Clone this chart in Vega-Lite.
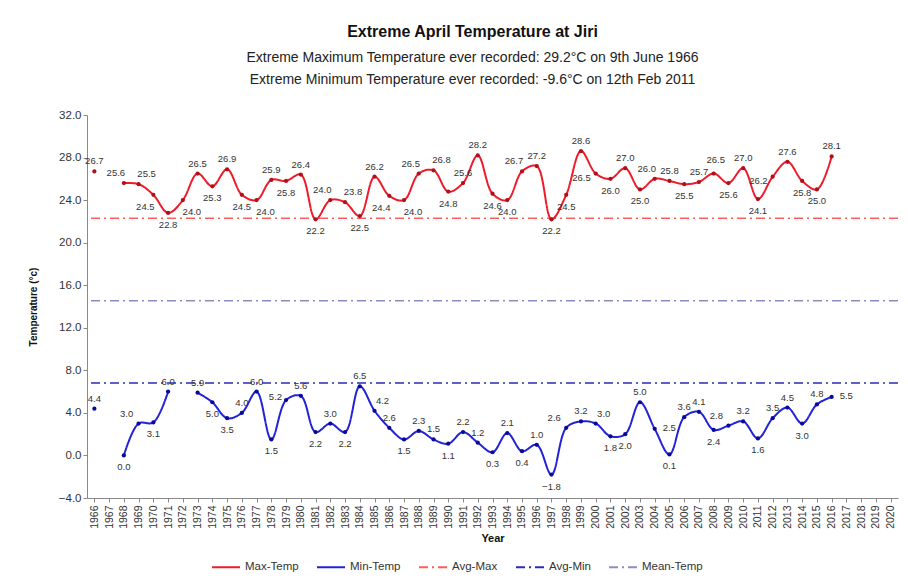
{
  "$schema": "https://vega.github.io/schema/vega-lite/v6.json",
  "width": 811,
  "height": 383,
  "autosize": {"type": "none"},
  "padding": {"left": 87, "top": 115, "right": 10, "bottom": 84},
  "background": "white",
  "title": {
    "text": "Extreme April Temperature at Jiri",
    "subtitle": ["Extreme Maximum Temperature ever recorded: 29.2°C on 9th June 1966", "Extreme Minimum Temperature ever recorded: -9.6°C on 12th Feb 2011"],
    "font": "Liberation Sans",
    "fontSize": 16,
    "fontWeight": "bold",
    "color": "#111",
    "subtitleFont": "Liberation Sans",
    "subtitleFontSize": 14,
    "subtitleColor": "#222",
    "subtitleLineHeight": 22,
    "subtitlePadding": 11,
    "anchor": "middle",
    "offset": 22,
    "dx": -20
  },
  "datasets": {
    "temps": [
      {"year": 1966, "series": "Max-Temp", "temp": 26.7},
      {"year": 1967, "series": "Max-Temp", "temp": null},
      {"year": 1968, "series": "Max-Temp", "temp": 25.6},
      {"year": 1969, "series": "Max-Temp", "temp": 25.5},
      {"year": 1970, "series": "Max-Temp", "temp": 24.5},
      {"year": 1971, "series": "Max-Temp", "temp": 22.8},
      {"year": 1972, "series": "Max-Temp", "temp": 24.0},
      {"year": 1973, "series": "Max-Temp", "temp": 26.5},
      {"year": 1974, "series": "Max-Temp", "temp": 25.3},
      {"year": 1975, "series": "Max-Temp", "temp": 26.9},
      {"year": 1976, "series": "Max-Temp", "temp": 24.5},
      {"year": 1977, "series": "Max-Temp", "temp": 24.0},
      {"year": 1978, "series": "Max-Temp", "temp": 25.9},
      {"year": 1979, "series": "Max-Temp", "temp": 25.8},
      {"year": 1980, "series": "Max-Temp", "temp": 26.4},
      {"year": 1981, "series": "Max-Temp", "temp": 22.2},
      {"year": 1982, "series": "Max-Temp", "temp": 24.0},
      {"year": 1983, "series": "Max-Temp", "temp": 23.8},
      {"year": 1984, "series": "Max-Temp", "temp": 22.5},
      {"year": 1985, "series": "Max-Temp", "temp": 26.2},
      {"year": 1986, "series": "Max-Temp", "temp": 24.4},
      {"year": 1987, "series": "Max-Temp", "temp": 24.0},
      {"year": 1988, "series": "Max-Temp", "temp": 26.5},
      {"year": 1989, "series": "Max-Temp", "temp": 26.8},
      {"year": 1990, "series": "Max-Temp", "temp": 24.8},
      {"year": 1991, "series": "Max-Temp", "temp": 25.6},
      {"year": 1992, "series": "Max-Temp", "temp": 28.2},
      {"year": 1993, "series": "Max-Temp", "temp": 24.6},
      {"year": 1994, "series": "Max-Temp", "temp": 24.0},
      {"year": 1995, "series": "Max-Temp", "temp": 26.7},
      {"year": 1996, "series": "Max-Temp", "temp": 27.2},
      {"year": 1997, "series": "Max-Temp", "temp": 22.2},
      {"year": 1998, "series": "Max-Temp", "temp": 24.5},
      {"year": 1999, "series": "Max-Temp", "temp": 28.6},
      {"year": 2000, "series": "Max-Temp", "temp": 26.5},
      {"year": 2001, "series": "Max-Temp", "temp": 26.0},
      {"year": 2002, "series": "Max-Temp", "temp": 27.0},
      {"year": 2003, "series": "Max-Temp", "temp": 25.0},
      {"year": 2004, "series": "Max-Temp", "temp": 26.0},
      {"year": 2005, "series": "Max-Temp", "temp": 25.8},
      {"year": 2006, "series": "Max-Temp", "temp": 25.5},
      {"year": 2007, "series": "Max-Temp", "temp": 25.7},
      {"year": 2008, "series": "Max-Temp", "temp": 26.5},
      {"year": 2009, "series": "Max-Temp", "temp": 25.6},
      {"year": 2010, "series": "Max-Temp", "temp": 27.0},
      {"year": 2011, "series": "Max-Temp", "temp": 24.1},
      {"year": 2012, "series": "Max-Temp", "temp": 26.2},
      {"year": 2013, "series": "Max-Temp", "temp": 27.6},
      {"year": 2014, "series": "Max-Temp", "temp": 25.8},
      {"year": 2015, "series": "Max-Temp", "temp": 25.0},
      {"year": 2016, "series": "Max-Temp", "temp": 28.1},
      {"year": 1966, "series": "Min-Temp", "temp": 4.4},
      {"year": 1967, "series": "Min-Temp", "temp": null},
      {"year": 1968, "series": "Min-Temp", "temp": 0.0},
      {"year": 1969, "series": "Min-Temp", "temp": 3.0},
      {"year": 1970, "series": "Min-Temp", "temp": 3.1},
      {"year": 1971, "series": "Min-Temp", "temp": 6.0},
      {"year": 1972, "series": "Min-Temp", "temp": null},
      {"year": 1973, "series": "Min-Temp", "temp": 5.9},
      {"year": 1974, "series": "Min-Temp", "temp": 5.0},
      {"year": 1975, "series": "Min-Temp", "temp": 3.5},
      {"year": 1976, "series": "Min-Temp", "temp": 4.0},
      {"year": 1977, "series": "Min-Temp", "temp": 6.0},
      {"year": 1978, "series": "Min-Temp", "temp": 1.5},
      {"year": 1979, "series": "Min-Temp", "temp": 5.2},
      {"year": 1980, "series": "Min-Temp", "temp": 5.6},
      {"year": 1981, "series": "Min-Temp", "temp": 2.2},
      {"year": 1982, "series": "Min-Temp", "temp": 3.0},
      {"year": 1983, "series": "Min-Temp", "temp": 2.2},
      {"year": 1984, "series": "Min-Temp", "temp": 6.5},
      {"year": 1985, "series": "Min-Temp", "temp": 4.2},
      {"year": 1986, "series": "Min-Temp", "temp": 2.6},
      {"year": 1987, "series": "Min-Temp", "temp": 1.5},
      {"year": 1988, "series": "Min-Temp", "temp": 2.3},
      {"year": 1989, "series": "Min-Temp", "temp": 1.5},
      {"year": 1990, "series": "Min-Temp", "temp": 1.1},
      {"year": 1991, "series": "Min-Temp", "temp": 2.2},
      {"year": 1992, "series": "Min-Temp", "temp": 1.2},
      {"year": 1993, "series": "Min-Temp", "temp": 0.3},
      {"year": 1994, "series": "Min-Temp", "temp": 2.1},
      {"year": 1995, "series": "Min-Temp", "temp": 0.4},
      {"year": 1996, "series": "Min-Temp", "temp": 1.0},
      {"year": 1997, "series": "Min-Temp", "temp": -1.8},
      {"year": 1998, "series": "Min-Temp", "temp": 2.6},
      {"year": 1999, "series": "Min-Temp", "temp": 3.2},
      {"year": 2000, "series": "Min-Temp", "temp": 3.0},
      {"year": 2001, "series": "Min-Temp", "temp": 1.8},
      {"year": 2002, "series": "Min-Temp", "temp": 2.0},
      {"year": 2003, "series": "Min-Temp", "temp": 5.0},
      {"year": 2004, "series": "Min-Temp", "temp": 2.5},
      {"year": 2005, "series": "Min-Temp", "temp": 0.1},
      {"year": 2006, "series": "Min-Temp", "temp": 3.6},
      {"year": 2007, "series": "Min-Temp", "temp": 4.1},
      {"year": 2008, "series": "Min-Temp", "temp": 2.4},
      {"year": 2009, "series": "Min-Temp", "temp": 2.8},
      {"year": 2010, "series": "Min-Temp", "temp": 3.2},
      {"year": 2011, "series": "Min-Temp", "temp": 1.6},
      {"year": 2012, "series": "Min-Temp", "temp": 3.5},
      {"year": 2013, "series": "Min-Temp", "temp": 4.5},
      {"year": 2014, "series": "Min-Temp", "temp": 3.0},
      {"year": 2015, "series": "Min-Temp", "temp": 4.8},
      {"year": 2016, "series": "Min-Temp", "temp": 5.5}
    ],
    "refs": [
      {"series": "Avg-Max", "temp": 22.3},
      {"series": "Avg-Min", "temp": 6.8},
      {"series": "Mean-Temp", "temp": 14.55}
    ]
  },
  "encoding": {
    "x": {
      "field": "year",
      "type": "ordinal",
      "scale": {"type": "point", "padding": 0.5, "domain": [1966,1967,1968,1969,1970,1971,1972,1973,1974,1975,1976,1977,1978,1979,1980,1981,1982,1983,1984,1985,1986,1987,1988,1989,1990,1991,1992,1993,1994,1995,1996,1997,1998,1999,2000,2001,2002,2003,2004,2005,2006,2007,2008,2009,2010,2011,2012,2013,2014,2015,2016,2017,2018,2019,2020]},
      "axis": {
        "title": "Year",
        "titleFontWeight": "bold",
        "titleFontSize": 11,
        "titlePadding": 4,
        "labelAngle": 270,
        "labelFontSize": 10.5,
        "labelPadding": 3,
        "tickSize": 4,
        "grid": false
      }
    },
    "y": {
      "field": "temp",
      "type": "quantitative",
      "scale": {"domain": [-4, 32], "nice": false, "zero": false},
      "axis": {
        "title": "Temperature (°c)",
        "titleFontWeight": "bold",
        "titleFontSize": 10,
        "titlePadding": 20,
        "values": [-4, 0, 4, 8, 12, 16, 20, 24, 28, 32],
        "format": ".1f",
        "labelFontSize": 11.5,
        "tickSize": 4,
        "grid": false
      }
    }
  },
  "layer": [
    {
      "data": {"name": "refs"},
      "mark": {"type": "rule", "strokeWidth": 1.5},
      "encoding": {
        "x": null,
        "y": {"field": "temp", "type": "quantitative"},
        "color": {"field": "series", "type": "nominal"},
        "strokeDash": {"field": "series", "type": "nominal"}
      }
    },
    {
      "data": {"name": "temps"},
      "mark": {"type": "line", "interpolate": "catmull-rom", "strokeWidth": 2, "invalid": "break-paths-show-domains"},
      "encoding": {
        "color": {
          "field": "series",
          "type": "nominal",
          "scale": {
            "domain": ["Max-Temp", "Min-Temp", "Avg-Max", "Avg-Min", "Mean-Temp"],
            "range": ["#ee1c2a", "#2222d8", "#ff5c5c", "#2b2bb8", "#8c8cc4"]
          },
          "legend": {
            "title": null,
            "orient": "none",
            "legendX": 124,
            "legendY": 437,
            "direction": "horizontal",
            "symbolType": "stroke",
            "symbolSize": 784,
            "symbolStrokeWidth": 2,
            "labelFontSize": 11.5,
            "labelFont": "Liberation Sans",
            "labelColor": "#333",
            "columnPadding": 14
          }
        },
        "strokeDash": {
          "field": "series",
          "type": "nominal",
          "scale": {
            "domain": ["Max-Temp", "Min-Temp", "Avg-Max", "Avg-Min", "Mean-Temp"],
            "range": [[1, 0], [1, 0], [9, 4, 2, 4], [9, 4, 2, 4], [9, 4, 2, 4]]
          }
        }
      }
    },
    {
      "data": {"name": "temps"},
      "transform": [{"filter": "datum.series === 'Max-Temp' && datum.temp != null"}],
      "mark": {"type": "point", "filled": true, "size": 18, "color": "#b0101c", "opacity": 1}
    },
    {
      "data": {"name": "temps"},
      "transform": [{"filter": "datum.series === 'Min-Temp' && datum.temp != null"}],
      "mark": {"type": "point", "filled": true, "size": 18, "color": "#0a0a9a", "opacity": 1}
    },
    {
      "data": {"name": "temps"},
      "transform": [
        {"filter": "datum.series === 'Max-Temp' && datum.temp != null"},
        {"filter": {"field": "year", "oneOf": [1966, 1973, 1975, 1978, 1980, 1985, 1991, 1992, 1996, 1999, 2002, 2005, 2007, 2010, 2013, 2016]}}
      ],
      "mark": {"type": "text", "dy": -10, "fontSize": 9.5, "font": "Liberation Sans", "color": "#333"},
      "encoding": {"text": {"field": "temp", "type": "quantitative", "format": ".1f"}}
    },
    {
      "data": {"name": "temps"},
      "transform": [
        {"filter": "datum.series === 'Max-Temp' && datum.temp != null"},
        {"filter": {"field": "year", "oneOf": [2008]}}
      ],
      "mark": {"type": "text", "dy": -14, "dx": 2, "fontSize": 9.5, "font": "Liberation Sans", "color": "#333"},
      "encoding": {"text": {"field": "temp", "type": "quantitative", "format": ".1f"}}
    },
    {
      "data": {"name": "temps"},
      "transform": [
        {"filter": "datum.series === 'Max-Temp' && datum.temp != null"},
        {"filter": {"field": "year", "oneOf": [1968, 1982, 1988, 1995, 2004]}}
      ],
      "mark": {"type": "text", "dy": -10, "dx": -8, "fontSize": 9.5, "font": "Liberation Sans", "color": "#333"},
      "encoding": {"text": {"field": "temp", "type": "quantitative", "format": ".1f"}}
    },
    {
      "data": {"name": "temps"},
      "transform": [
        {"filter": "datum.series === 'Max-Temp' && datum.temp != null"},
        {"filter": {"field": "year", "oneOf": [1969, 1983, 1989]}}
      ],
      "mark": {"type": "text", "dy": -10, "dx": 8, "fontSize": 9.5, "font": "Liberation Sans", "color": "#333"},
      "encoding": {"text": {"field": "temp", "type": "quantitative", "format": ".1f"}}
    },
    {
      "data": {"name": "temps"},
      "transform": [
        {"filter": "datum.series === 'Max-Temp' && datum.temp != null"},
        {"filter": {"field": "year", "oneOf": [2000, 2012]}}
      ],
      "mark": {"type": "text", "dx": -5, "dy": 4, "align": "right", "fontSize": 9.5, "font": "Liberation Sans", "color": "#333"},
      "encoding": {"text": {"field": "temp", "type": "quantitative", "format": ".1f"}}
    },
    {
      "data": {"name": "temps"},
      "transform": [
        {"filter": "datum.series === 'Max-Temp' && datum.temp != null"},
        {"filter": {"field": "year", "oneOf": [1971, 1974, 1976, 1979, 1981, 1984, 1990, 1993, 1994, 1997, 1998, 2001, 2003, 2006, 2009, 2011, 2014, 2015]}}
      ],
      "mark": {"type": "text", "dy": 12, "fontSize": 9.5, "font": "Liberation Sans", "color": "#333"},
      "encoding": {"text": {"field": "temp", "type": "quantitative", "format": ".1f"}}
    },
    {
      "data": {"name": "temps"},
      "transform": [
        {"filter": "datum.series === 'Max-Temp' && datum.temp != null"},
        {"filter": {"field": "year", "oneOf": [1970, 1986]}}
      ],
      "mark": {"type": "text", "dy": 12, "dx": -8, "fontSize": 9.5, "font": "Liberation Sans", "color": "#333"},
      "encoding": {"text": {"field": "temp", "type": "quantitative", "format": ".1f"}}
    },
    {
      "data": {"name": "temps"},
      "transform": [
        {"filter": "datum.series === 'Max-Temp' && datum.temp != null"},
        {"filter": {"field": "year", "oneOf": [1972, 1977, 1987]}}
      ],
      "mark": {"type": "text", "dy": 12, "dx": 9, "fontSize": 9.5, "font": "Liberation Sans", "color": "#333"},
      "encoding": {"text": {"field": "temp", "type": "quantitative", "format": ".1f"}}
    },
    {
      "data": {"name": "temps"},
      "transform": [
        {"filter": "datum.series === 'Min-Temp' && datum.temp != null"},
        {"filter": {"field": "year", "oneOf": [1966, 1971, 1973, 1976, 1977, 1980, 1982, 1984, 1986, 1988, 1989, 1991, 1992, 1994, 1996, 1999, 2003, 2006, 2007, 2010, 2012, 2013, 2015]}}
      ],
      "mark": {"type": "text", "dy": -10, "fontSize": 9.5, "font": "Liberation Sans", "color": "#333"},
      "encoding": {"text": {"field": "temp", "type": "quantitative", "format": ".1f"}}
    },
    {
      "data": {"name": "temps"},
      "transform": [
        {"filter": "datum.series === 'Min-Temp' && datum.temp != null"},
        {"filter": {"field": "year", "oneOf": [1969, 1998, 2009]}}
      ],
      "mark": {"type": "text", "dy": -10, "dx": -12, "fontSize": 9.5, "font": "Liberation Sans", "color": "#333"},
      "encoding": {"text": {"field": "temp", "type": "quantitative", "format": ".1f"}}
    },
    {
      "data": {"name": "temps"},
      "transform": [
        {"filter": "datum.series === 'Min-Temp' && datum.temp != null"},
        {"filter": {"field": "year", "oneOf": [1985, 2000]}}
      ],
      "mark": {"type": "text", "dy": -10, "dx": 8, "fontSize": 9.5, "font": "Liberation Sans", "color": "#333"},
      "encoding": {"text": {"field": "temp", "type": "quantitative", "format": ".1f"}}
    },
    {
      "data": {"name": "temps"},
      "transform": [
        {"filter": "datum.series === 'Min-Temp' && datum.temp != null"},
        {"filter": {"field": "year", "oneOf": [1979]}}
      ],
      "mark": {"type": "text", "dx": -4, "dy": -3, "align": "right", "fontSize": 9.5, "font": "Liberation Sans", "color": "#333"},
      "encoding": {"text": {"field": "temp", "type": "quantitative", "format": ".1f"}}
    },
    {
      "data": {"name": "temps"},
      "transform": [
        {"filter": "datum.series === 'Min-Temp' && datum.temp != null"},
        {"filter": {"field": "year", "oneOf": [2004, 2016]}}
      ],
      "mark": {"type": "text", "dx": 8, "dy": -1, "align": "left", "fontSize": 9.5, "font": "Liberation Sans", "color": "#333"},
      "encoding": {"text": {"field": "temp", "type": "quantitative", "format": ".1f"}}
    },
    {
      "data": {"name": "temps"},
      "transform": [
        {"filter": "datum.series === 'Min-Temp' && datum.temp != null"},
        {"filter": {"field": "year", "oneOf": [1968, 1970, 1974, 1975, 1978, 1981, 1983, 1987, 1990, 1993, 1995, 1997, 2001, 2002, 2005, 2008, 2011, 2014]}}
      ],
      "mark": {"type": "text", "dy": 12, "fontSize": 9.5, "font": "Liberation Sans", "color": "#333"},
      "encoding": {"text": {"field": "temp", "type": "quantitative", "format": ".1f"}}
    }
  ],
  "config": {
    "view": {"stroke": null},
    "axis": {
      "labelFont": "Liberation Sans",
      "titleFont": "Liberation Sans",
      "labelColor": "#333",
      "titleColor": "#111",
      "domainColor": "#888",
      "tickColor": "#888"
    }
  }
}
